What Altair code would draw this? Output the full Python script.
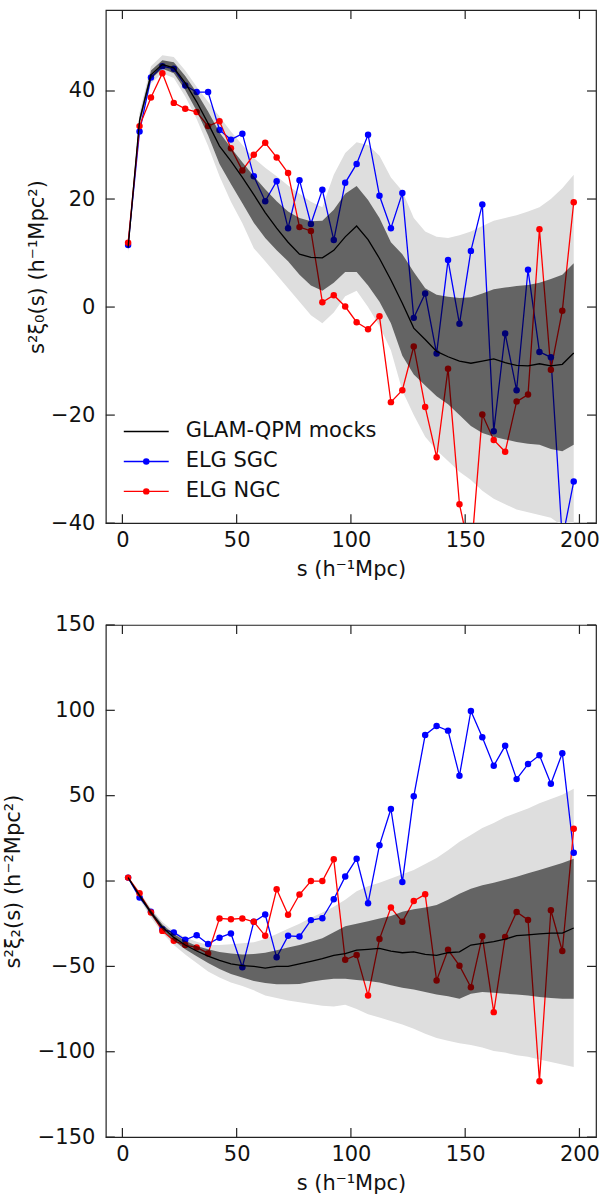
import altair as alt
import pandas as pd

# separation bins (h^-1 Mpc)
S = [2.5, 7.5, 12.5, 17.5, 22.5, 27.5, 32.5, 37.5, 42.5, 47.5,
     52.5, 57.5, 62.5, 67.5, 72.5, 77.5, 82.5, 87.5, 92.5, 97.5,
     102.5, 107.5, 112.5, 117.5, 122.5, 127.5, 132.5, 137.5, 142.5, 147.5,
     152.5, 157.5, 162.5, 167.5, 172.5, 177.5, 182.5, 187.5, 192.5, 197.5]

# ---------------- monopole ----------------
MONO_MEAN = [11.0, 34.5, 43.0, 44.9, 44.3, 41.5, 38.0, 34.0, 29.8, 27.0,
             24.0, 20.8, 17.5, 14.6, 12.0, 9.8, 9.2, 9.1, 10.5, 13.0,
             15.0, 12.5, 9.0, 5.0, 0.7, -3.9, -6.0, -8.2, -9.2, -10.0,
             -10.4, -10.0, -9.6, -10.3, -10.8, -10.9, -10.5, -10.9, -10.6, -8.5]
MONO_DLO = [10.5, 33.8, 42.2, 44.1, 43.3, 40.2, 36.3, 31.8, 26.5, 22.8,
            19.2, 15.6, 12.8, 10.5, 8.5, 6.0, 4.0, 3.0, 4.5, 6.5,
            6.5, 4.0, 1.0, -3.0, -9.0, -12.5, -14.5, -16.5, -18.0, -20.0,
            -22.0, -23.3, -24.0, -24.5, -25.0, -25.3, -25.5, -26.3, -26.7, -25.5]
MONO_DHI = [11.5, 35.2, 43.8, 45.7, 45.3, 42.8, 39.7, 36.2, 32.3, 29.5,
            26.8, 24.2, 21.8, 19.6, 17.7, 16.5, 15.9, 16.0, 18.0, 21.0,
            22.4, 19.8, 16.5, 12.0, 9.8, 6.5, 3.5, 2.3, 1.9, 1.7,
            1.8, 2.5, 3.3, 3.6, 3.9, 4.1, 4.5, 5.2, 6.0, 8.1]
MONO_LLO = [10.0, 33.0, 41.4, 43.3, 42.4, 39.0, 34.8, 29.8, 24.2, 19.5,
            15.5, 10.9, 8.5, 6.0, 3.5, 1.0, -1.5, -3.0, -1.0, 2.0,
            3.0, 0.0, -3.5, -8.0, -15.5, -20.0, -24.0, -26.5, -28.5, -30.5,
            -32.0, -34.0, -35.5, -36.5, -37.5, -38.0, -38.5, -39.0, -40.5, -41.5]
MONO_LHI = [12.0, 36.0, 44.6, 46.6, 46.3, 43.8, 40.8, 38.0, 35.3, 32.5,
            30.0, 27.6, 25.8, 24.2, 22.5, 21.0, 19.5, 18.5, 24.5, 28.5,
            30.5, 30.0, 28.0, 24.0, 21.5, 16.5, 14.0, 13.0, 12.8, 13.3,
            14.0, 15.0, 16.0, 16.5, 17.0, 17.7, 18.5, 20.0, 22.0, 24.5]
MONO_SGC = [11.5, 32.5, 42.5, 44.6, 44.1, 41.0, 39.8, 39.8, 32.8, 31.0,
            32.1, 24.2, 19.6, 23.3, 14.6, 23.5, 15.4, 21.7, 12.4, 23.0,
            26.5, 31.9, 20.6, 14.6, 21.1, -2.0, 2.5, -8.6, 8.7, -3.1,
            10.4, 19.0, -23.0, -4.9, -15.4, 6.9, -8.3, -9.3, -43.0, -32.3]
MONO_NGC = [11.9, 33.5, 38.8, 43.3, 37.8, 36.7, 36.1, 33.5, 34.4, 29.4,
            25.3, 28.2, 30.4, 27.7, 24.8, 14.8, 14.1, 0.9, 2.2, 0.1,
            -2.8, -4.1, -1.7, -17.6, -15.4, -7.3, -18.5, -27.8, -11.4, -36.5,
            -46.3, -19.9, -24.6, -26.8, -17.5, -16.2, 14.4, -11.6, -0.7, 19.4]

# ---------------- quadrupole ----------------
QUAD_MEAN = [2.0, -8.5, -18.5, -27.0, -33.0, -37.5, -41.0, -44.0, -46.5, -48.5,
             -49.5, -50.0, -51.0, -50.0, -50.0, -48.5, -47.0, -45.5, -43.5, -42.5,
             -40.5, -40.0, -39.5, -41.0, -42.0, -41.5, -43.0, -43.5, -42.0, -41.5,
             -37.5, -36.5, -35.5, -34.0, -32.0, -31.5, -31.0, -30.5, -30.5, -27.5]
QUAD_DLO = [1.5, -9.5, -20.0, -28.5, -35.0, -40.0, -44.0, -48.0, -51.5, -54.5,
            -56.5, -58.5, -59.7, -60.5, -60.5, -60.3, -59.0, -58.0, -57.3, -57.2,
            -58.0, -58.5, -59.5, -61.0, -62.5, -63.5, -65.0, -66.5, -67.5, -69.0,
            -66.0, -65.0, -65.5, -66.0, -66.5, -67.0, -68.0, -68.5, -69.0, -69.0]
QUAD_DHI = [2.5, -7.5, -17.0, -25.5, -31.0, -35.0, -38.0, -40.0, -41.5, -42.5,
            -43.0, -42.8, -42.0, -40.5, -39.0, -37.5, -35.5, -33.5, -30.0, -26.5,
            -25.0, -23.5, -22.0, -20.5, -18.0, -16.5, -15.5, -14.0, -11.0, -7.5,
            -4.5, -2.5, -1.0, 0.8, 2.5, 4.5, 6.5, 8.5, 10.5, 13.0]
QUAD_LLO = [1.0, -10.5, -21.5, -30.5, -37.5, -43.0, -48.0, -53.0, -56.5, -59.5,
            -61.5, -64.0, -67.0, -68.5, -70.0, -71.0, -72.0, -73.0, -73.5, -72.5,
            -75.0, -78.0, -80.0, -82.0, -84.0, -86.5, -89.5, -92.0, -93.5, -95.0,
            -96.0, -97.5, -99.5, -100.5, -102.0, -103.0, -104.5, -106.0, -107.5, -109.0]
QUAD_LHI = [3.0, -6.5, -16.0, -24.0, -29.5, -33.0, -35.5, -37.5, -37.5, -37.0,
            -36.5, -35.9, -34.0, -31.0, -28.0, -25.0, -21.5, -18.5, -15.0, -11.0,
            -6.0, -3.0, -1.0, 1.5, 4.0, 6.5, 10.0, 13.5, 18.0, 23.0,
            27.0, 31.0, 34.0, 37.5, 40.0, 42.5, 45.5, 48.0, 50.5, 54.0]
QUAD_SGC = [2.0, -9.7, -18.0, -28.3, -30.1, -34.4, -31.7, -36.9, -33.2, -30.7,
            -50.5, -23.9, -19.6, -44.7, -32.1, -32.5, -22.9, -21.8, -10.7, 2.6,
            13.1, -13.0, 21.0, 42.2, -0.6, 49.6, 85.6, 90.8, 88.1, 61.7,
            99.6, 84.2, 67.5, 79.2, 59.7, 68.5, 73.7, 57.0, 74.9, 16.6]
QUAD_NGC = [2.0, -7.2, -18.4, -29.2, -35.0, -37.5, -38.9, -42.4, -21.9, -22.4,
            -21.9, -23.9, -32.1, -4.8, -19.8, -7.9, 0.0, 0.0, 12.7, -46.1,
            -43.3, -67.1, -34.0, -15.5, -23.9, -11.7, -7.8, -58.3, -40.3, -49.6,
            -62.2, -32.4, -76.8, -32.8, -18.1, -22.8, -117.3, -17.1, -41.0, 30.6]

X_TICKS = [0, 50, 100, 150, 200]
MONO_YTICKS = [-40, -20, 0, 20, 40]
QUAD_YTICKS = [-150, -100, -50, 0, 50, 100, 150]
LEG_LABELS = ["GLAM-QPM mocks", "ELG SGC", "ELG NGC"]
LEG_COLORS = ["black", "blue", "red"]
LEG_DOT = [False, True, True]

FONT = "DejaVu Sans"
FS = 21
W = 491
TICK = 9
FRAME = "#222222"
LEG_Y0 = 422.2
LEG_DY = 30.0

xs = alt.Scale(domain=[-7.25, 207.25], nice=False, zero=False)
cscale = alt.Scale(domain=LEG_LABELS[1:], range=LEG_COLORS[1:])


def legend_layers():
    layers = []
    one = pd.DataFrame({"k": [0]})
    for i, (lab, col, dot) in enumerate(zip(LEG_LABELS, LEG_COLORS, LEG_DOT)):
        yy = LEG_Y0 + i * LEG_DY
        layers.append(alt.Chart(one).mark_rule(color=col, strokeWidth=1.4).encode(
            x=alt.value(18), x2=alt.value(63), y=alt.value(yy)))
        if dot:
            layers.append(alt.Chart(one).mark_circle(color=col, size=42, opacity=1).encode(
                x=alt.value(40.5), y=alt.value(yy)))
        layers.append(alt.Chart(one).mark_text(
            align="left", baseline="middle", font=FONT, fontSize=FS, color="#111111"
        ).encode(x=alt.value(80), y=alt.value(yy), text=alt.value(lab)))
    return layers


def panel(mean, dlo, dhi, llo, lhi, sgc, ngc, ydom, yticks, ytitle, H, ytx, with_legend):
    band = pd.DataFrame({"s": S, "mean": mean, "dlo": dlo, "dhi": dhi,
                         "llo": llo, "lhi": lhi})
    obs = pd.DataFrame({"s": S + S, "value": sgc + ngc,
                        "series": ["ELG SGC"] * len(S) + ["ELG NGC"] * len(S)})
    xt = pd.DataFrame({"t": X_TICKS})
    yt = pd.DataFrame({"t": yticks})

    ys = alt.Scale(domain=ydom, nice=False, zero=False)
    xax = alt.Axis(values=X_TICKS, title="s (h⁻¹Mpc)")
    yax = alt.Axis(values=yticks, title=ytitle, titleX=ytx, titleBaseline="bottom")
    X = alt.X("s:Q", scale=xs, axis=xax)

    light = alt.Chart(band).mark_area(color="#dedede", clip=True).encode(
        X, alt.Y("llo:Q", scale=ys, axis=yax), alt.Y2("lhi:Q"))
    lines = alt.Chart(obs).mark_line(strokeWidth=1.3, clip=True).encode(
        X, alt.Y("value:Q", scale=ys, axis=yax),
        alt.Color("series:N", scale=cscale, legend=None))
    points = alt.Chart(obs).mark_circle(size=42, opacity=1, clip=True).encode(
        X, alt.Y("value:Q", scale=ys, axis=yax),
        alt.Color("series:N", scale=cscale, legend=None))
    dark = alt.Chart(band).mark_area(color="black", opacity=0.55, clip=True).encode(
        X, alt.Y("dlo:Q", scale=ys, axis=yax), alt.Y2("dhi:Q"))
    meanl = alt.Chart(band).mark_line(color="black", strokeWidth=1.3, clip=True).encode(
        X, alt.Y("mean:Q", scale=ys, axis=yax))

    XT = alt.X("t:Q", scale=xs, axis=xax)
    YT = alt.Y("t:Q", scale=ys, axis=yax)
    tb = alt.Chart(xt).mark_rule(color=FRAME, strokeWidth=1.2).encode(
        XT, y=alt.value(H), y2=alt.value(H - TICK))
    tt = alt.Chart(xt).mark_rule(color=FRAME, strokeWidth=1.2).encode(
        XT, y=alt.value(0), y2=alt.value(TICK))
    tl = alt.Chart(yt).mark_rule(color=FRAME, strokeWidth=1.2).encode(
        YT, x=alt.value(0), x2=alt.value(TICK))
    tr = alt.Chart(yt).mark_rule(color=FRAME, strokeWidth=1.2).encode(
        YT, x=alt.value(W), x2=alt.value(W - TICK))

    layers = [light, lines, points, dark, meanl, tb, tt, tl, tr]
    if with_legend:
        layers += legend_layers()
    return alt.layer(*layers).properties(width=W, height=H)


top = panel(MONO_MEAN, MONO_DLO, MONO_DHI, MONO_LLO, MONO_LHI, MONO_SGC, MONO_NGC,
            [-40, 55], MONO_YTICKS, "s²ξ₀(s) (h⁻¹Mpc²)", 514, -58, True)
bot = panel(QUAD_MEAN, QUAD_DLO, QUAD_DHI, QUAD_LLO, QUAD_LHI, QUAD_SGC, QUAD_NGC,
            [-150, 150], QUAD_YTICKS, "s²ξ₂(s) (h⁻²Mpc²)", 513, -82, False)

chart = alt.vconcat(top, bot, spacing=102, bounds="flush").properties(
    padding={"left": 2, "top": 7, "right": 0, "bottom": 0}
).configure_view(stroke=FRAME, strokeWidth=1.2).configure_axis(
    labelFont=FONT, labelFontSize=FS, labelColor="#111111",
    titleFont=FONT, titleFontSize=FS, titleFontWeight="normal", titleColor="#111111",
    ticks=False, tickSize=0, domain=False, grid=False, labelFlush=False,
).configure_axisX(labelPadding=6, titlePadding=8).configure_axisY(labelPadding=11)

chart.save("out.html", embed_options={"renderer": "svg", "actions": False})
